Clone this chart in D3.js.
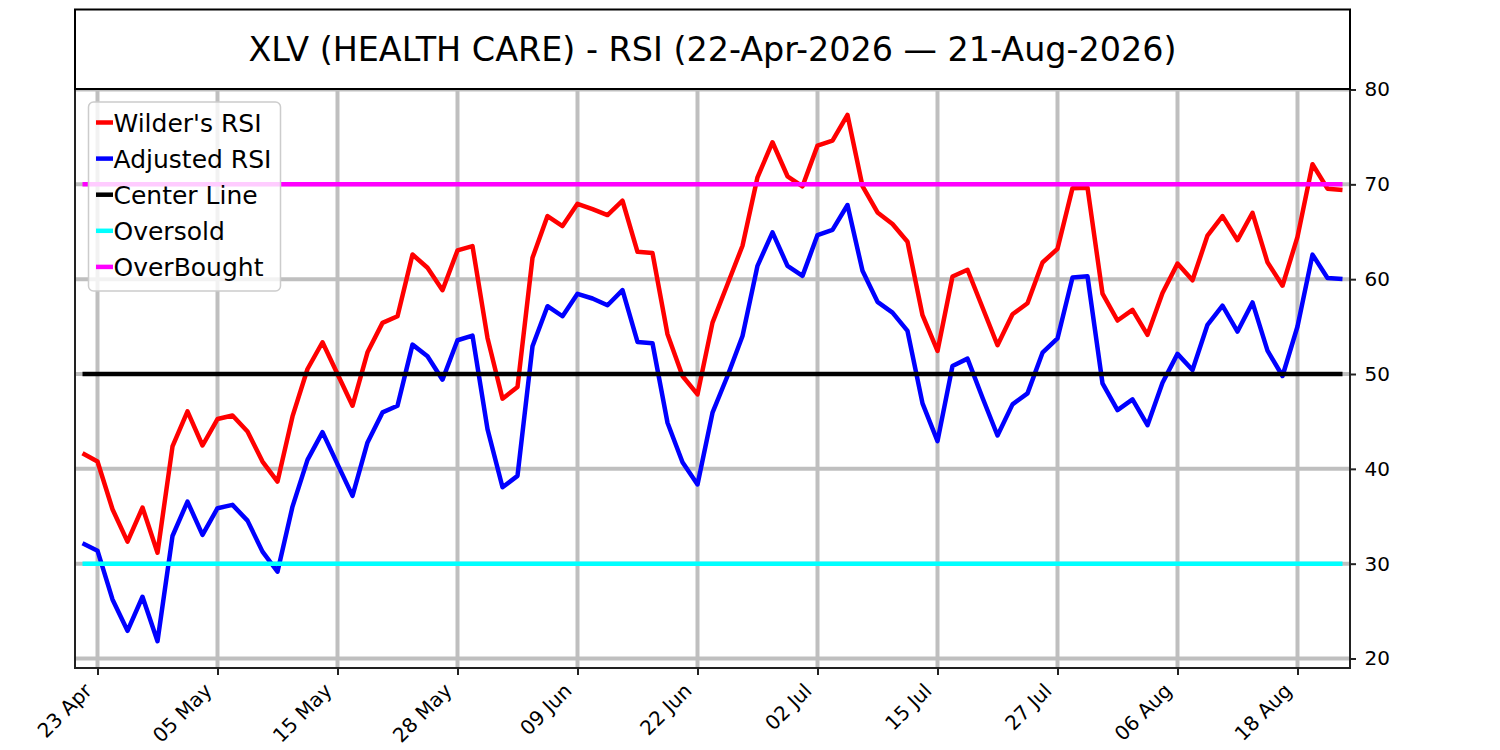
<!DOCTYPE html>
<html>
<head>
<meta charset="utf-8">
<script src="https://cdn.jsdelivr.net/npm/d3@7"></script>
<style>
  body { margin: 0; background: #fff; }
  text { font-family: "DejaVu Sans", sans-serif; fill: #000; }
</style>
</head>
<body>
<div class="chart"></div>
<script>
// RSI chart, XLV

var width = 1500;
var height = 750;
var margin = {top: 89, bottom: 82, left: 75, right: 150};

var titleText = "XLV (HEALTH CARE) - RSI (22-Apr-2026 \u2014 21-Aug-2026)";

// wilder's rsi, one value per trading day (22 Apr .. 21 Aug)
var wilderRSI = [
  41.65, 40.77, 35.74, 32.32, 35.92, 31.16, 42.36, 46.06, 42.46, 45.25,
  45.63, 43.94, 40.77, 38.66, 45.53, 50.53, 53.35, 50.0, 46.65, 52.29,
  55.39, 56.09, 62.6, 61.2, 58.84, 63.03, 63.49, 53.8, 47.4, 48.63,
  62.25, 66.65, 65.6, 67.95, 67.39, 66.76, 68.27, 62.89, 62.75, 54.19,
  49.79, 47.85, 55.42, 59.47, 63.52, 70.74, 74.44, 70.85, 69.79, 74.08,
  74.61, 77.32, 69.8, 67.04, 65.81, 63.94, 56.2, 52.43, 60.28, 60.99,
  57.01, 53.03, 56.3, 57.46, 61.76, 63.2, 69.6, 69.65, 58.47, 55.64,
  56.77, 54.13, 58.54, 61.64, 59.88, 64.6, 66.65, 64.11, 67.0, 61.78,
  59.31, 64.46, 72.12, 69.54, 69.4
];

var adjustedRSI = [
  32.15, 31.37, 26.23, 22.92, 26.51, 21.83, 32.92, 36.55, 33.03, 35.85,
  36.2, 34.54, 31.27, 29.15, 36.02, 40.95, 43.87, 40.5, 37.15, 42.78,
  45.95, 46.65, 53.1, 51.87, 49.4, 53.56, 54.05, 44.19, 38.06, 39.26,
  52.92, 57.15, 56.09, 58.45, 57.96, 57.25, 58.84, 53.38, 53.24, 44.86,
  40.7, 38.35, 45.92, 49.79, 54.01, 61.41, 64.93, 61.41, 60.35, 64.65,
  65.2, 67.82, 60.88, 57.61, 56.48, 54.54, 46.9, 42.92, 50.85, 51.62,
  47.5, 43.52, 46.8, 47.96, 52.25, 53.75, 60.18, 60.3, 49.01, 46.19,
  47.32, 44.6, 49.08, 52.12, 50.42, 55.19, 57.2, 54.48, 57.55, 52.47,
  49.79, 55.01, 62.59, 60.12, 60.02
];

// x ticks (trading day index + label)
var tickIndex = [1, 9, 17, 25, 33, 41, 49, 57, 65, 73, 81];
var tickLabels = ["23 Apr", "05 May", "15 May", "28 May", "09 Jun", "22 Jun",
                  "02 Jul", "15 Jul", "27 Jul", "06 Aug", "18 Aug"];
var yTicks = [20, 30, 40, 50, 60, 70, 80];

var levelNames = ["Center Line", "Oversold", "OverBought"];
var levelValues = [50, 30, 70];
var levelColors = ["#000000", "#00ffff", "#ff00ff"];

var seriesNames = ["Wilder's RSI", "Adjusted RSI"];
var seriesColors = ["#ff0000", "#0000ff"];

var w = width - margin.left - margin.right;
var h = height - margin.top - margin.bottom;

const svg = d3.select(".chart")
              .append("svg")
              .attr("width", width)
              .attr("height", height);

const g = svg.append("g")
             .attr("transform", "translate(" + margin.left + "," + margin.top + ")");

var n = wilderRSI.length;
var x = d3.scaleLinear().domain([-0.5, n - 0.5]).range([0, w]);
var y = d3.scaleLinear().domain([19, 80]).range([h, 0.5]);

// grid
g.append("g")
 .selectAll("line")
 .data(yTicks)
 .enter()
 .append("line")
 .attr("x1", 0).attr("x2", w)
 .attr("y1", d => y(d)).attr("y2", d => y(d))
 .attr("stroke", "#bfbfbf")
 .attr("stroke-width", 4);

g.append("g")
 .selectAll("line")
 .data(tickIndex)
 .enter()
 .append("line")
 .attr("x1", d => x(d)).attr("x2", d => x(d))
 .attr("y1", 0).attr("y2", h)
 .attr("stroke", "#bfbfbf")
 .attr("stroke-width", 4);

// rsi lines
var line = d3.line()
             .x((d, i) => x(i))
             .y(d => y(d));

[wilderRSI, adjustedRSI].forEach(function (s, k) {
  g.append("path")
   .datum(s)
   .attr("d", line)
   .attr("fill", "none")
   .attr("stroke", seriesColors[k])
   .attr("stroke-width", 4.5)
   .attr("stroke-linejoin", "round");
});

// level lines
g.append("g")
 .selectAll("line")
 .data(levelValues)
 .enter()
 .append("line")
 .attr("x1", x(0)).attr("x2", x(n - 1))
 .attr("y1", d => y(d)).attr("y2", d => y(d))
 .attr("stroke", (d, i) => levelColors[i])
 .attr("stroke-width", 4.5);

// axes
var xAxis = g.append("g")
             .attr("transform", "translate(0," + h + ")")
             .call(d3.axisBottom(x).tickValues(tickIndex).tickSize(7).tickFormat((d, i) => tickLabels[i]));
xAxis.attr("font-size", 20).attr("font-family", "DejaVu Sans");
xAxis.select(".domain").remove();
xAxis.selectAll(".tick line").attr("stroke", "#222").attr("stroke-width", 2);
xAxis.selectAll(".tick text")
     .attr("font-size", 20)
     .attr("text-anchor", "end")
     .attr("dy", null)
     .attr("y", null)
     .attr("transform", "translate(-5,24) rotate(-45)");

var yAxis = g.append("g")
             .attr("transform", "translate(" + w + ",0)")
             .call(d3.axisRight(y).tickValues(yTicks).tickSize(6).tickPadding(8.5));
yAxis.attr("font-size", 20).attr("font-family", "DejaVu Sans");
yAxis.select(".domain").remove();
yAxis.selectAll(".tick line").attr("stroke", "#222").attr("stroke-width", 2);
yAxis.selectAll(".tick text").attr("font-size", 20);

// frame
g.append("path")
 .attr("d", "M0,0V" + h + "H" + w + "V0")
 .attr("fill", "none")
 .attr("stroke", "#222")
 .attr("stroke-width", 2);

// title box
svg.append("rect")
   .attr("x", margin.left)
   .attr("y", 9.5)
   .attr("width", w)
   .attr("height", margin.top - 9.5)
   .attr("fill", "#fff")
   .attr("stroke", "#000")
   .attr("stroke-width", 2);

svg.append("text")
   .attr("x", margin.left + w / 2)
   .attr("y", 61)
   .attr("text-anchor", "middle")
   .attr("font-size", 33.4)
   .text(titleText);

// legend
var legendNames = seriesNames.concat(levelNames);
var legendColors = seriesColors.concat(levelColors);

var legend = svg.append("g")
                .attr("id", "legend")
                .attr("transform", "translate(88.5,102)");

legend.append("rect")
      .attr("width", 192)
      .attr("height", 189)
      .attr("rx", 5)
      .attr("fill", "#ffffff")
      .attr("fill-opacity", 0.8)
      .attr("stroke", "#cccccc")
      .attr("stroke-width", 1.5);

var item = legend.selectAll(".legend-item")
                 .data(legendNames)
                 .enter()
                 .append("g")
                 .attr("class", "legend-item")
                 .attr("transform", (d, i) => "translate(0," + (20.5 + i * 36.1) + ")");

item.append("line")
    .attr("x1", 7.5).attr("x2", 24.5)
    .attr("stroke", (d, i) => legendColors[i])
    .attr("stroke-width", 4.5);

item.append("text")
    .attr("x", 25)
    .attr("y", 9)
    .attr("font-size", 25)
    .text(d => d);
</script>
</body>
</html>
